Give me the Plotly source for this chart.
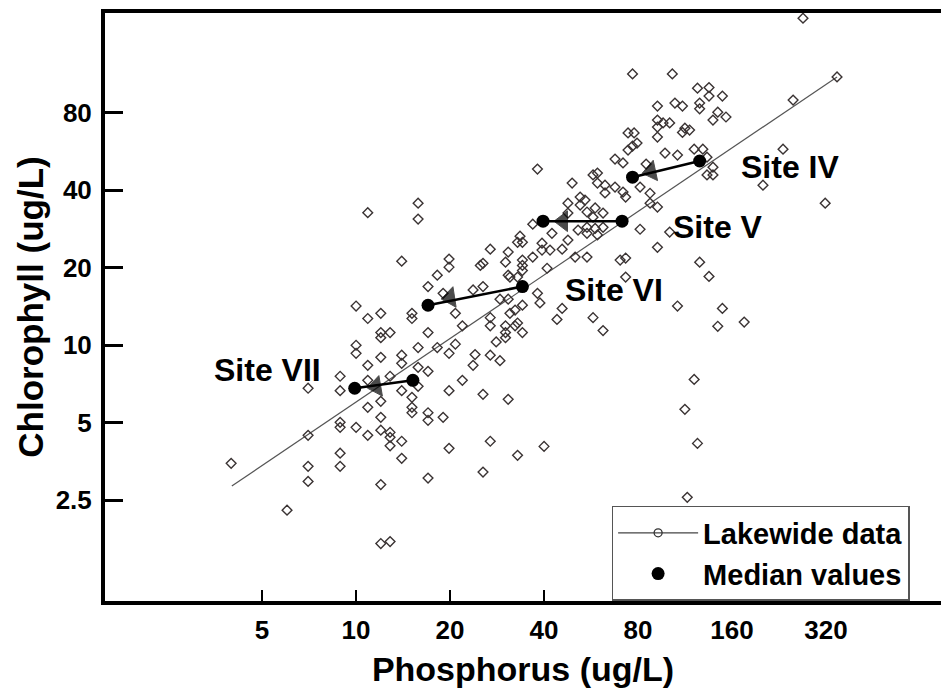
import math
import plotly.graph_objects as go

# ---------------- data ----------------
lake_p = [3.98, 6.01, 7.02, 7.02, 7.02, 7.02, 8.89, 8.89, 8.89, 8.89, 8.89, 8.89,
          10, 10, 10, 10, 10.9, 10.9, 10.9, 10.9, 10.9, 10.9,
          12.0, 12.0, 12.0, 12.0, 12.0, 12.0, 12.0, 12.0, 12.0,
          12.85, 12.85, 12.85, 12.85, 12.85, 12.85,
          14.0, 14.0, 14.0, 14.0, 14.0, 14.0, 15.1, 15.1, 15.1, 15.1, 15.1,
          15.8, 15.8, 15.8, 15.8, 15.8, 17.0, 17.0, 17.0, 17.0, 17.0, 17.0,
          18.2, 18.2, 19.0, 19.0, 19.85, 19.85, 19.85, 19.85, 19.85,
          20.8, 20.8, 21.9, 21.9, 23.7, 23.7, 24.05, 25.0, 25.5, 25.5, 25.5, 25.5,
          26.9, 26.9, 26.9, 26.9, 26.9, 28.1, 28.9, 28.9,
          30.7, 30.1, 30.7, 30.7, 30.1, 30.1, 30.1, 30.7, 31.1, 31.1,
          32.3, 32.3, 32.9, 32.9, 32.9, 32.9, 33.5, 34.1, 34.1, 34.1, 34.1, 34.1, 34.1,
          36.8, 36.8, 38.1, 38.1, 38.8, 39.4, 39.4, 40, 40.9, 41.8, 42.4, 44.0,
          45.7, 45.7, 47.7, 47.7, 47.7, 49.2, 50.3, 51.4, 52.2, 52.2, 54.1,
          54.9, 54.9, 54.9, 54.9, 57.4, 57.4, 57.4, 58.3, 58.3, 59.3, 59.3, 59.3,
          61.8, 61.8, 61.8, 62.7, 62.7, 67.5, 67.5, 70.1, 71.6, 71.6, 73.0, 73.0, 73.0,
          74.3, 74.3, 76.8, 77.7, 76.8, 79.4, 81.2, 81.2, 84.9, 87.4, 87.4,
          92.3, 92.3, 92.3, 92.3, 92.3, 92.3, 96.2, 97.6, 101, 101, 103, 105, 107, 107,
          111, 111, 113, 113, 115, 117, 121, 121, 124, 124, 126, 126, 126,
          129, 133, 133, 135, 135, 135, 139, 139, 139, 144, 144, 149, 149, 153,
          175, 201, 233, 251, 270, 318, 347]
lake_chl = [3.48, 2.29, 6.81, 4.47, 3.39, 2.96, 7.58, 6.66, 5.02, 4.80, 3.81, 3.39,
            14.2, 10.0, 9.3, 4.80, 32.7, 12.7, 8.36, 7.31, 5.74, 4.47,
            13.3, 11.2, 10.7, 8.98, 6.06, 5.25, 4.68, 2.88, 1.70,
            11.2, 7.58, 4.59, 4.39, 4.07, 1.73,
            21.2, 9.15, 8.51, 6.66, 4.24, 3.64, 13.3, 12.7, 6.28, 5.74, 5.47,
            35.6, 30.9, 9.8, 8.21, 6.93, 16.9, 11.2, 7.92, 5.47, 5.11, 3.05,
            18.7, 9.8, 15.9, 5.25, 21.6, 20.1, 9.3, 6.66, 3.98,
            13.3, 10.1, 11.9, 7.31, 16.4, 8.36, 9.2, 20.4, 16.9, 6.45, 3.22, 20.8,
            23.6, 12.8, 11.9, 9.15, 4.24, 10.3, 15.1, 8.71,
            23.0, 21.0, 18.7, 15.1, 11.9, 11.2, 10.7, 6.17, 18.4, 13.3,
            13.7, 11.9, 25.1, 18.4, 12.2, 3.74, 26.5, 25.1, 21.4, 20.4, 19.5, 14.3, 11.2,
            29.5, 22.0, 48.3, 15.9, 14.6, 24.9, 23.4, 4.05, 19.9, 23.4, 27.2, 12.6,
            23.6, 13.9, 35.6, 32.6, 25.6, 42.6, 22.0, 28.0, 37.6, 35.0, 36.6,
            32.9, 28.7, 27.2, 22.0, 45.8, 31.4, 12.8, 34.1, 28.4, 42.6, 26.8, 46.6,
            32.6, 28.7, 11.4, 41.8, 39.0, 52.8, 41.1, 21.4, 51.0, 39.3, 37.6, 21.8, 18.4,
            66.7, 57.2, 113, 66.7, 59.3, 60.9, 41.1, 28.2, 50.5, 38.9, 35.6,
            74.8, 70.3, 84.8, 64.3, 34.4, 24.0, 72.9, 55.7, 72.9, 27.5, 113, 87.1, 54.7, 14.2,
            84.8, 67.0, 5.64, 69.6, 2.57, 68.4, 7.37, 57.7, 99.5, 4.16, 87.1, 82.7, 21.0,
            57.7, 53.7, 45.8, 100, 92.7, 18.5, 49.1, 74.8, 45.8, 80.3, 11.85, 92.7, 13.9, 76.9,
            12.3, 41.8, 57.7, 89.5, 186, 35.6, 110]

fit_p = [4.0, 347]
fit_chl = [2.84, 110]

sites = ["Site IV", "Site V", "Site VI", "Site VII"]
median_p_from = [126, 71.1, 34.1, 15.2]
median_chl_from = [51.9, 30.3, 16.9, 7.31]
arrow_p = [88.0, 46.0, 20.0, 11.6]
arrow_chl = [47.3, 30.3, 15.3, 6.91]
median_p_to = [76.8, 39.7, 17.0, 9.9]
median_chl_to = [44.9, 30.3, 14.3, 6.81]

x_ticks = [5, 10, 20, 40, 80, 160, 320]
y_ticks = [2.5, 5, 10, 20, 40, 80]

# ---------------- figure ----------------
FONT = "Liberation Sans"
fig = go.Figure()

fig.add_trace(go.Scatter(x=fit_p, y=fit_chl, mode="lines",
                         line=dict(color="#555555", width=1.2),
                         showlegend=False, hoverinfo="skip"))

fig.add_trace(go.Scatter(x=lake_p, y=lake_chl, mode="markers",
                         marker=dict(symbol="diamond-open", size=7.5,
                                     color="#3a3333", line=dict(width=1.4)),
                         showlegend=False))

for i in range(len(sites)):
    # connecting line
    fig.add_trace(go.Scatter(
        x=[median_p_from[i], median_p_to[i]],
        y=[median_chl_from[i], median_chl_to[i]],
        mode="lines", line=dict(color="black", width=2.5),
        showlegend=False, hoverinfo="skip"))
    # arrow head oriented along the path
    fig.add_trace(go.Scatter(
        x=[median_p_from[i], arrow_p[i]],
        y=[median_chl_from[i], arrow_chl[i]],
        mode="markers",
        marker=dict(symbol="triangle-up", size=[0, 18], color="black",
                    angleref="previous", line=dict(width=1, color="black")),
        showlegend=False, hoverinfo="skip"))

# median points
fig.add_trace(go.Scatter(
    x=median_p_from + median_p_to, y=median_chl_from + median_chl_to,
    mode="markers", name="Median values",
    marker=dict(symbol="circle", size=13, color="black"), showlegend=False))

# legend entries
fig.add_trace(go.Scatter(x=[None], y=[None], mode="lines+markers", name="Lakewide data",
                         line=dict(color="#444444", width=1.2),
                         marker=dict(symbol="circle-open", size=8, color="#333333",
                                     line=dict(width=1.3))))
fig.add_trace(go.Scatter(x=[None], y=[None], mode="markers", name="Median values",
                         marker=dict(symbol="circle", size=13, color="black")))

label_pos = [(0.819, 0.738), (0.733, 0.636), (0.609, 0.529), (0.194, 0.393)]
for name, (lx, ly) in zip(sites, label_pos):
    fig.add_annotation(text=name, x=lx, y=ly, xref="paper", yref="paper",
                       xanchor="center", yanchor="middle", showarrow=False,
                       font=dict(family=FONT, size=32, color="black", weight="bold"))

fig.update_layout(
    width=941, height=692,
    margin=dict(l=105, r=0, t=13, b=91, autoexpand=False),
    plot_bgcolor="white", paper_bgcolor="white",
    font=dict(family=FONT, color="black"),
    xaxis=dict(type="log", range=[math.log10(1.57), math.log10(747)],
               tickvals=x_ticks, ticktext=[str(v) for v in x_ticks],
               ticks="inside", ticklen=11, tickwidth=2, tickcolor="black",
               showline=True, linewidth=4, linecolor="black", mirror=True,
               showgrid=False, zeroline=False, automargin=False,
               ticklabelstandoff=3,
               tickfont=dict(family=FONT, size=26, weight="bold"),
               title=dict(text="Phosphorus (ug/L)", standoff=14,
                          font=dict(family=FONT, size=34, weight="bold"))),
    yaxis=dict(type="log", range=[math.log10(1.017), math.log10(194.8)],
               tickvals=y_ticks, ticktext=[str(v) for v in y_ticks],
               ticks="inside", ticklen=18, tickwidth=2.5, tickcolor="black",
               showline=True, linewidth=4, linecolor="black", mirror=False,
               showgrid=False, zeroline=False, ticklabelstandoff=4,
               automargin=False,
               tickfont=dict(family=FONT, size=26, weight="bold"),
               title=dict(text="Chlorophyll (ug/L)", standoff=2,
                          font=dict(family=FONT, size=35, weight="bold"))),
    legend=dict(x=0.606, y=0.1616, xanchor="left", yanchor="top",
                bgcolor="white", bordercolor="#555555", borderwidth=1.5,
                font=dict(family=FONT, size=29, weight="bold"),
                itemwidth=80, tracegroupgap=0),
)

fig.write_html("out.html", config={"displayModeBar": False},
               post_script="document.body.style.margin='0px';"
                           "document.body.style.overflow='hidden';")
